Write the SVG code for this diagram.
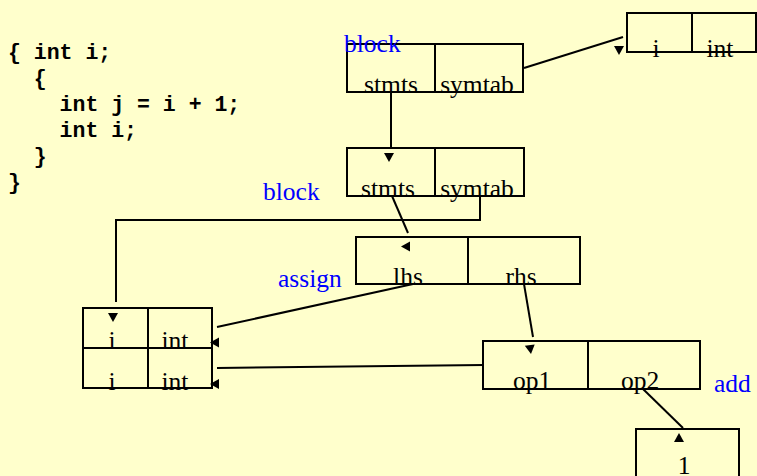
<svg xmlns="http://www.w3.org/2000/svg" xmlns:xlink="http://www.w3.org/1999/xlink" width="757" height="476" viewBox="0 0 757 476">
  <style>
    .bg { fill: #FFFFCC; }
    .box { fill: none; stroke: #000; stroke-width: 2; }
    .wire { fill: none; stroke: #000; stroke-width: 2; }
    .cell { font-family: "Liberation Serif", "Times New Roman", serif; font-size: 25.5px; fill: #000; text-anchor: middle; }
    .tag { font-family: "Liberation Serif", "Times New Roman", serif; font-size: 25.5px; fill: #0000FF; }
    .code { font-family: "Liberation Mono", "Courier New", monospace; font-size: 21.5px; font-weight: bold; fill: #000; white-space: pre; }
    .head { fill: #000; }
  </style>
  <defs>
    <!-- small filled triangle, tip pointing down, origin at the tip -->
    <path id="tri" d="M0,0 L-5,-9 L5,-9 Z"/>
  </defs>
  <rect class="bg" x="0" y="0" width="757" height="476"/>

  <!-- source code -->
  <g id="source">
    <text class="code" x="8" y="59" xml:space="preserve">{ int i;</text>
    <text class="code" x="8" y="85" xml:space="preserve">  {</text>
    <text class="code" x="8" y="111" xml:space="preserve">    int j = i + 1;</text>
    <text class="code" x="8" y="137" xml:space="preserve">    int i;</text>
    <text class="code" x="8" y="163" xml:space="preserve">  }</text>
    <text class="code" x="8" y="189" xml:space="preserve">}</text>
  </g>

  <!-- connectors -->
  <g id="connectors">
    <line class="wire" x1="524" y1="68" x2="623" y2="37"/>
    <line class="wire" x1="391" y1="92" x2="391" y2="148"/>
    <line class="wire" x1="392" y1="196" x2="408" y2="233"/>
    <polyline class="wire" points="480,196 480,220 116,220 116,302"/>
    <line class="wire" x1="413" y1="284" x2="217" y2="327"/>
    <line class="wire" x1="484" y1="365" x2="217" y2="368"/>
    <line class="wire" x1="524" y1="284" x2="533" y2="337"/>
    <line class="wire" x1="643" y1="389" x2="683" y2="428"/>
    <!-- arrowheads -->
    <use xlink:href="#tri" class="head" transform="translate(619,55)"/>
    <use xlink:href="#tri" class="head" transform="translate(389,162)"/>
    <use xlink:href="#tri" class="head" transform="translate(401,246.5) rotate(90)"/>
    <use xlink:href="#tri" class="head" transform="translate(113,322)"/>
    <use xlink:href="#tri" class="head" transform="translate(210,342.5) rotate(90)"/>
    <use xlink:href="#tri" class="head" transform="translate(210,384) rotate(90)"/>
    <use xlink:href="#tri" class="head" transform="translate(531,354) rotate(-8)"/>
    <use xlink:href="#tri" class="head" transform="translate(679,433) rotate(180)"/>
  </g>

  <!-- outer block -->
  <g id="block-outer">
    <rect class="box" x="347" y="44" width="176" height="48"/>
    <line class="box" x1="435" y1="44" x2="435" y2="92"/>
    <text class="cell" x="391" y="93">stmts</text>
    <text class="cell" x="477" y="93">symtab</text>
    <text class="tag" x="344" y="52">block</text>
  </g>

  <!-- outer symbol table entry -->
  <g id="symtab-outer">
    <rect class="box" x="627" y="13" width="129" height="39"/>
    <line class="box" x1="692" y1="13" x2="692" y2="52"/>
    <text class="cell" x="656" y="57">i</text>
    <text class="cell" x="720" y="57">int</text>
  </g>

  <!-- inner block -->
  <g id="block-inner">
    <rect class="box" x="347" y="148" width="177" height="48"/>
    <line class="box" x1="435" y1="148" x2="435" y2="196"/>
    <text class="cell" x="388" y="197">stmts</text>
    <text class="cell" x="477" y="197">symtab</text>
    <text class="tag" x="263" y="200">block</text>
  </g>

  <!-- assignment -->
  <g id="assign">
    <rect class="box" x="356" y="237" width="224" height="47"/>
    <line class="box" x1="468" y1="237" x2="468" y2="284"/>
    <text class="cell" x="408" y="285">lhs</text>
    <text class="cell" x="521" y="285">rhs</text>
    <text class="tag" x="278" y="287">assign</text>
  </g>

  <!-- inner symbol table -->
  <g id="symtab-inner">
    <rect class="box" x="83" y="308" width="129" height="80"/>
    <line class="box" x1="83" y1="348" x2="212" y2="348"/>
    <line class="box" x1="148" y1="308" x2="148" y2="388"/>
    <text class="cell" x="112" y="349">i</text>
    <text class="cell" x="175" y="349">int</text>
    <text class="cell" x="112" y="390">i</text>
    <text class="cell" x="175" y="390">int</text>
  </g>

  <!-- addition -->
  <g id="add">
    <rect class="box" x="483" y="341" width="217" height="48"/>
    <line class="box" x1="588" y1="341" x2="588" y2="389"/>
    <text class="cell" x="532" y="389">op1</text>
    <text class="cell" x="640" y="389">op2</text>
    <text class="tag" x="714" y="392">add</text>
  </g>

  <!-- constant -->
  <g id="const">
    <rect class="box" x="636" y="429" width="103" height="60"/>
    <text class="cell" x="684" y="474">1</text>
  </g>
</svg>
